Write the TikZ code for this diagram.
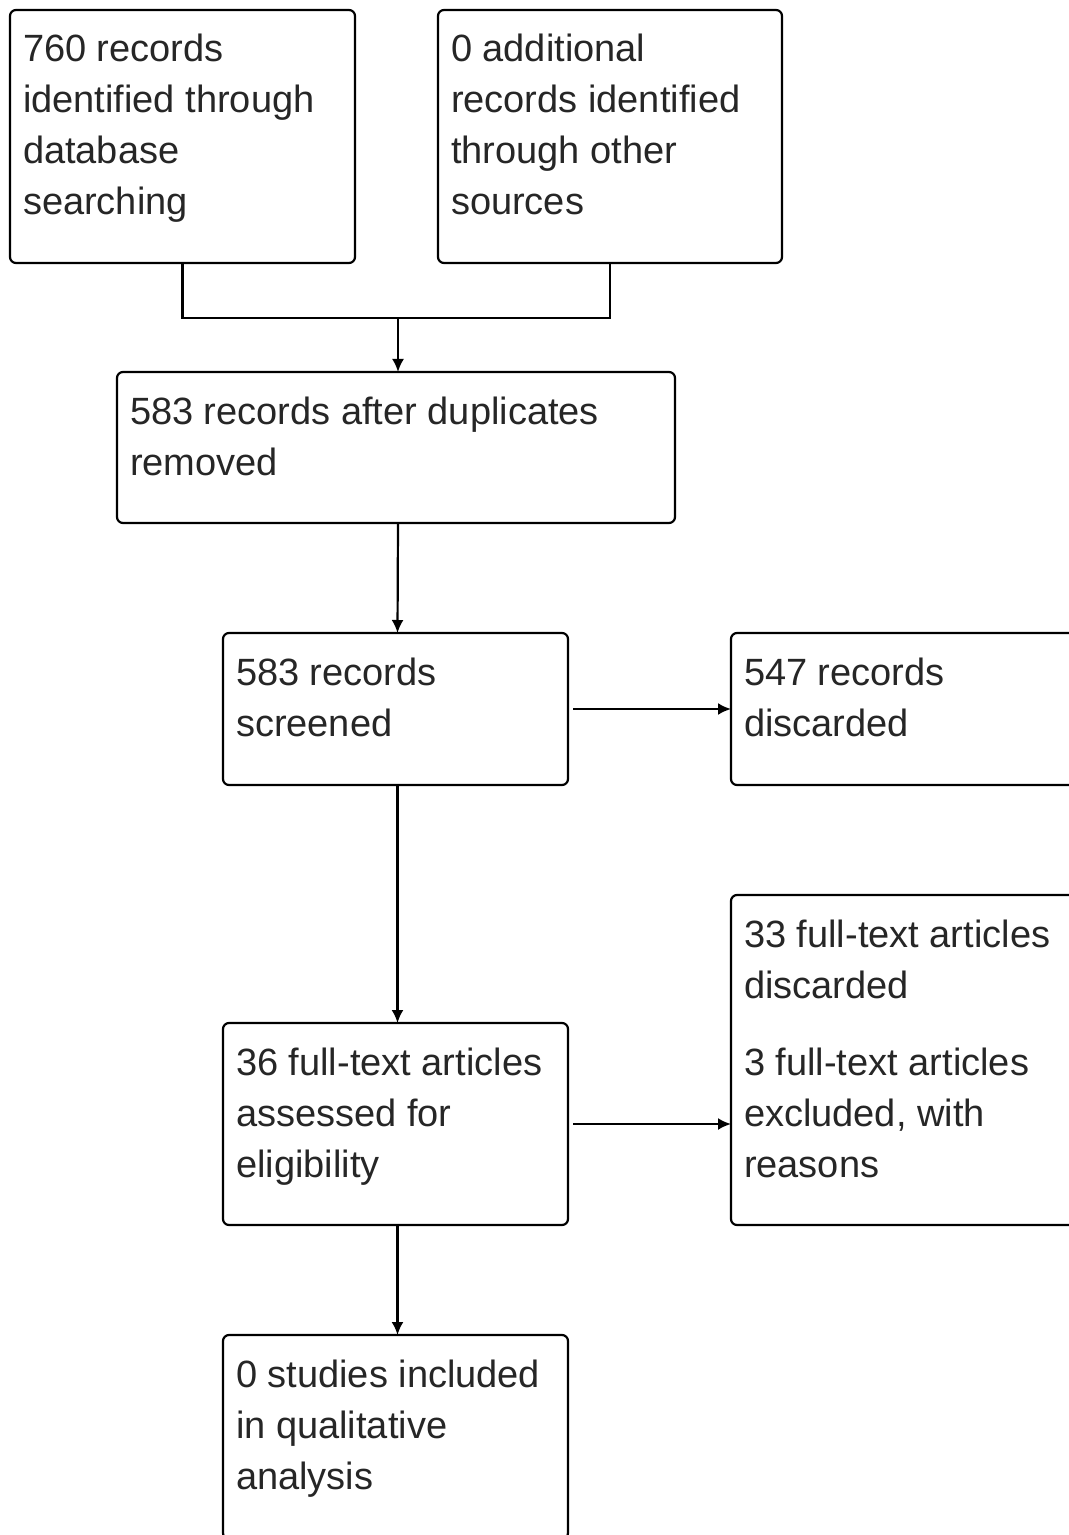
\documentclass[tikz,border=0pt]{standalone}
\usepackage{fontspec}
\setmainfont{Liberation Sans}
\usetikzlibrary{arrows.meta, calc}

% text block pinned to the top left of a box
\newcommand{\boxtext}[3]{\parbox[t][#2][t]{#1}{\raggedright\rule{0pt}{26pt}#3}}

\begin{document}
\begin{tikzpicture}[
            x=0.5pt, y=-0.5pt,
            >={Latex[length=6.5pt, width=6pt]},
            line width=1.1pt,
            box/.style={draw, rounded corners=3pt, anchor=north west, inner xsep=6.5pt, inner ysep=0pt, outer sep=0pt, text=black!85, font=\fontsize{19}{25.5}\selectfont}
        ]
        \useasboundingbox (0,0) rectangle (1069,1535);
        \clip (0,0) rectangle (1069,1535);

        % Identification
        \node [box] (search) at (10, 10) {\boxtext{159.5pt}{126.5pt}{760 records\\identified through\\database\\searching}};
        \node [box] (other) at (438, 10) {\boxtext{159pt}{126.5pt}{0 additional\\records identified\\through other\\sources}};
        \node [box] (dedup) at (117, 372) {\boxtext{266pt}{75.5pt}{583 records after duplicates\\removed}};

        % Screening
        \node [box] (screened) at (223, 633) {\boxtext{159.5pt}{76pt}{583 records\\screened}};
        \node [box] (discarded) at (731, 633) {\boxtext{159.5pt}{76pt}{547 records\\discarded}};

        % Eligibility
        \node [box] (fulltext) at (223, 1023) {\boxtext{159.5pt}{101pt}{36 full-text articles\\assessed for\\eligibility}};
        \node [box] (excluded) at (731, 895) {\boxtext{159.5pt}{165pt}{33 full-text articles\\discarded\\[13pt]3 full-text articles\\excluded, with\\reasons}};

        % Included
        \node [box] (included) at (223, 1335) {\boxtext{159.5pt}{102pt}{0 studies included\\in qualitative\\analysis}};

        % Connectors
        \coordinate (merge) at ($(dedup.north) + (2, -54)$);
        \draw (search.south) |- (merge) -| (other.south);
        \draw[->] (merge) -- (merge |- dedup.north);
        \draw[->] ($(dedup.south) + (2, 0)$) -- ($(screened.north) + (2, 0)$);
        \draw[->, shorten <=2.5pt] (screened.east) -- (screened.east -| discarded.west);
        \draw[->] ($(screened.south) + (2, 0)$) -- ($(fulltext.north) + (2, 0)$);
        \draw[->, shorten <=2.5pt] (fulltext.east) -- (fulltext.east -| excluded.west);
        \draw[->] ($(fulltext.south) + (2, 0)$) -- ($(included.north) + (2, 0)$);
    \end{tikzpicture}
\end{document}
